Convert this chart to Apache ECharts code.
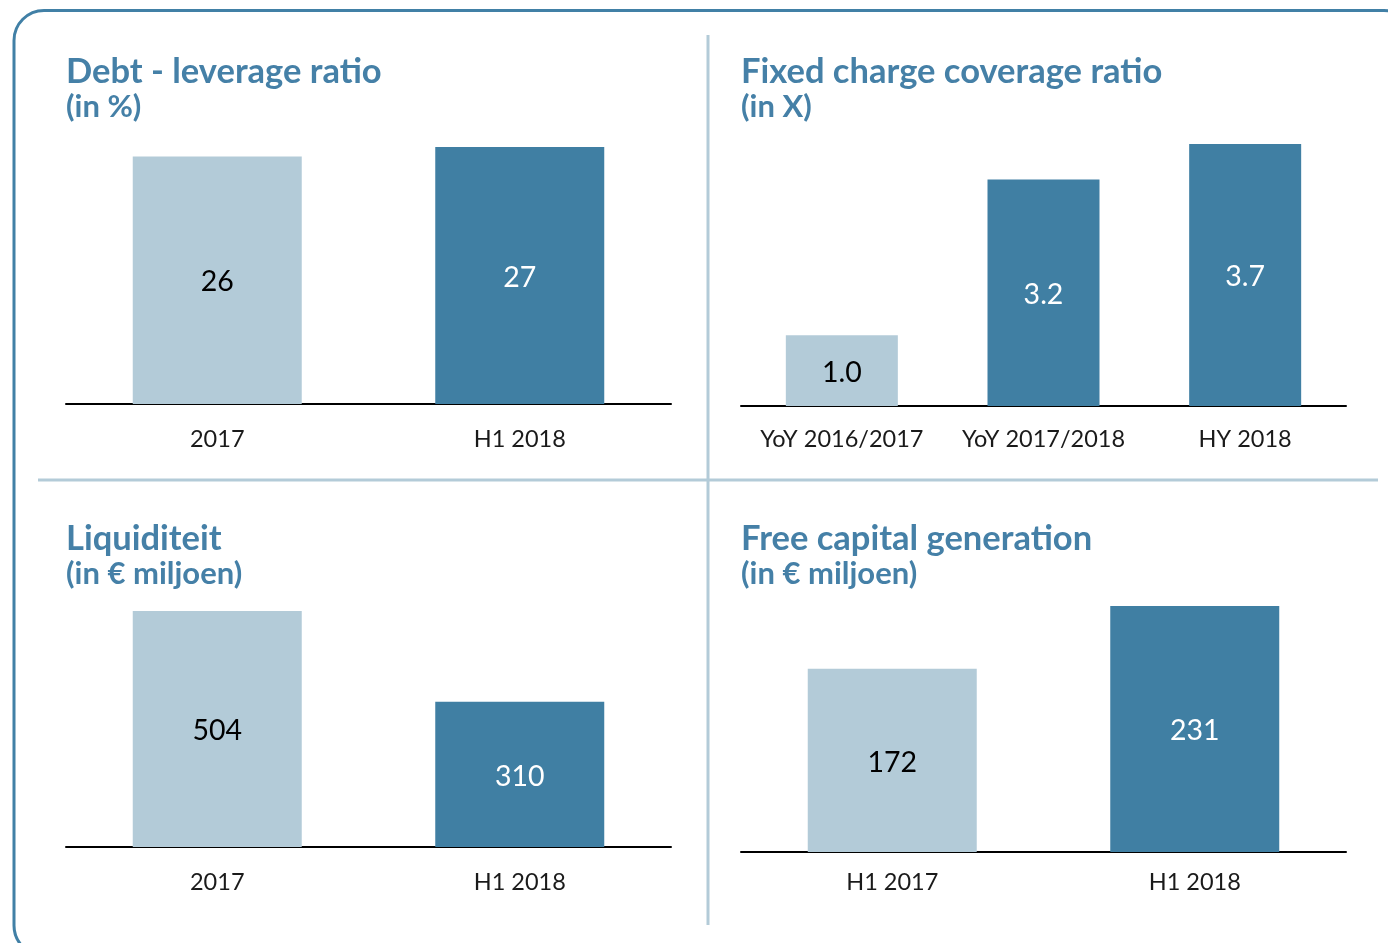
<!DOCTYPE html>
<html>
<head>
<meta charset="utf-8">
<title>Kerncijfers</title>
<script src="https://cdn.jsdelivr.net/npm/echarts@6/dist/echarts.min.js"></script>
<style>
  html, body { margin: 0; padding: 0; background: #fff; }
  #chart { width: 1388px; height: 943px; }
</style>
</head>
<body>
<div id="chart"></div>
<script>
  // data
  const debtCategories = ['2017', 'H1 2018'];
  const debtValues = [26, 27];
  const coverageCategories = ['YoY 2016/2017', 'YoY 2017/2018', 'HY 2018'];
  const coverageValues = [1.0, 3.2, 3.7];
  const liquidityCategories = ['2017', 'H1 2018'];
  const liquidityValues = [504, 310];
  const capitalCategories = ['H1 2017', 'H1 2018'];
  const capitalValues = [172, 231];

  const LIGHT = '#b3cbd8';
  const DARK = '#407fa3';
  const TITLE = '#4580a7';
  const FONT = 'Lato, "Open Sans", sans-serif';

  const panels = [
    { title: 'Debt - leverage ratio', sub: '(in %)', cats: debtCategories, vals: debtValues, digits: 0,
      left: 66, top: 147, height: 257, titleTop: 55, barWidth: 169, margin: 23 },
    { title: 'Fixed charge coverage ratio', sub: '(in X)', cats: coverageCategories, vals: coverageValues, digits: 1,
      left: 741, top: 144, height: 262, titleTop: 55, barWidth: 112, margin: 21 },
    { title: 'Liquiditeit', sub: '(in € miljoen)', cats: liquidityCategories, vals: liquidityValues, digits: 0,
      left: 66, top: 611, height: 236, titleTop: 522, barWidth: 169, margin: 23 },
    { title: 'Free capital generation', sub: '(in € miljoen)', cats: capitalCategories, vals: capitalValues, digits: 0,
      left: 741, top: 606, height: 246, titleTop: 522, barWidth: 169, margin: 18 }
  ];

  const getOption = () => ({
    animation: false,
    backgroundColor: '#fff',
    title: panels.map((p) => ({
      text: p.title,
      subtext: p.sub,
      left: p.left,
      top: p.titleTop,
      padding: 0,
      itemGap: 0,
      textStyle: { color: TITLE, fontFamily: FONT, fontWeight: 'bold', fontSize: 34.5, lineHeight: 34 },
      subtextStyle: { color: TITLE, fontFamily: FONT, fontWeight: 'bold', fontSize: 31, lineHeight: 34 }
    })),
    grid: panels.map((p) => ({ left: p.left, top: p.top, width: 605, height: p.height })),
    xAxis: panels.map((p, i) => ({
      type: 'category',
      gridIndex: i,
      data: p.cats,
      axisLine: { lineStyle: { color: '#000', width: 2 } },
      axisTick: { show: false },
      axisLabel: {
        color: '#1a1a1a',
        fontFamily: FONT,
        fontSize: 23.5,
        margin: p.margin,
        interval: 0,
        hideOverlap: false
      }
    })),
    yAxis: panels.map((p, i) => ({
      type: 'value',
      gridIndex: i,
      min: 0,
      max: Math.max(...p.vals),
      show: false,
      splitLine: { show: false }
    })),
    series: panels.map((p, i) => ({
      type: 'bar',
      xAxisIndex: i,
      yAxisIndex: i,
      barWidth: p.barWidth,
      data: p.vals.map((v, j) => ({
        value: v,
        itemStyle: { color: j === 0 ? LIGHT : DARK },
        label: { color: j === 0 ? '#000' : '#fff' }
      })),
      label: {
        show: true,
        position: 'inside',
        offset: [0, 2],
        fontFamily: FONT,
        fontSize: 28.5,
        formatter: (d) => d.value.toFixed(p.digits)
      }
    })),
    graphic: [
      {
        type: 'rect',
        shape: { x: 14, y: 10.5, width: 1400, height: 945, r: 30 },
        style: { fill: 'none', stroke: '#4180a6', lineWidth: 3 },
        silent: true
      },
      {
        type: 'line',
        shape: { x1: 708, y1: 35, x2: 708, y2: 925 },
        style: { stroke: LIGHT, lineWidth: 3 },
        silent: true
      },
      {
        type: 'line',
        shape: { x1: 38, y1: 480, x2: 1378, y2: 480 },
        style: { stroke: LIGHT, lineWidth: 3 },
        silent: true
      }
    ]
  });

  const myChart = echarts.init(document.getElementById('chart'));
  myChart.setOption(getOption());
  window.addEventListener('resize', () => myChart.resize());
</script>
</body>
</html>
